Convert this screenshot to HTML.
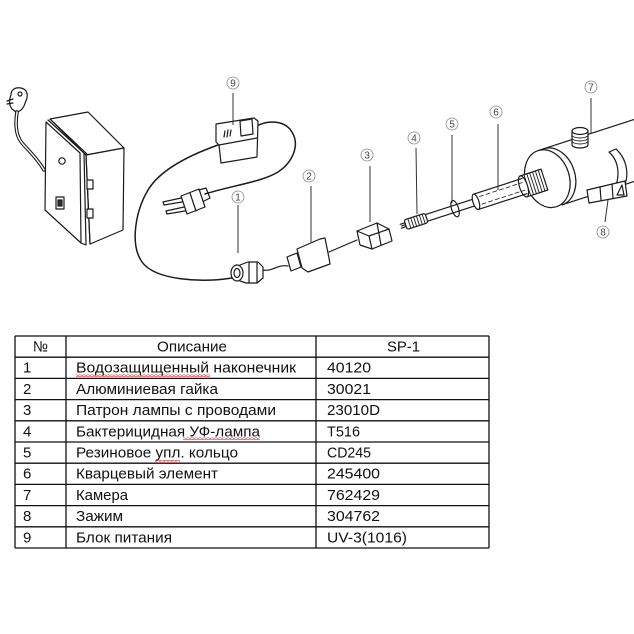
<!DOCTYPE html>
<html><head><meta charset="utf-8"><style>
html,body{margin:0;padding:0;background:#fff;}
svg{display:block;}
.t{font-family:"Liberation Sans","DejaVu Sans",sans-serif;font-size:15px;fill:#111;}
.lb{font-family:"Liberation Sans","DejaVu Sans",sans-serif;font-size:10px;fill:#444;text-anchor:middle;}
</style></head><body>
<svg width="634" height="634" viewBox="0 0 634 634" xmlns="http://www.w3.org/2000/svg">
<defs>
<pattern id="wv" x="0" y="0" width="4" height="3" patternUnits="userSpaceOnUse"><path d="M0,2.5 L2,0.5 L4,2.5" fill="none" stroke="#d22" stroke-width="0.8"/></pattern>
</defs>
<rect width="634" height="634" fill="#fff"/>

<!-- DRAWING -->
<g fill="none" stroke="#1b1b1b" stroke-width="1.2" stroke-linejoin="round" stroke-linecap="round">
  <!-- left plug -->
  <path d="M11,95 C11,89 16,87 21,88 C26,89 28,93 27,98 L24,106 C22,110 19,112 16,112 L12,109 C9,105 9,100 11,95 Z" fill="#fff"/>
  <path d="M7,101 L13,99 M7,104 L13,103"/>
  <circle cx="20" cy="94" r="2"/>
  <!-- cable -->
  <path d="M17,112 C15,125 16,136 22,143 C28,150 37,158 44,170" stroke-width="3.6"/>
  <path d="M17,112 C15,125 16,136 22,143 C28,150 37,158 44,170" stroke="#fff" stroke-width="1.4"/>
  <!-- control box -->
  <path d="M50,119 L88,112 L124,148 L86,155 Z" fill="#fff"/>
  <path d="M86,155 L124,148 L123,230 L90,244 Z" fill="#fff"/>
  <path d="M48,120 L84,153 L86,245 L81,243"/>
  <path d="M84,153 L86,155 M86,155 L90,244"/>
  <path d="M46,122 L80,153 L81,243 L45,210 Z" fill="#fff"/>
  <path d="M50,119 L88,155"/>
  <rect x="87" y="180" width="6" height="9" fill="#fff"/>
  <rect x="87" y="209" width="6" height="9" fill="#fff"/>
  <circle cx="62" cy="161" r="3.2"/>
  <rect x="56" y="197" width="8" height="12"/>
  <rect x="58" y="200" width="4" height="6" fill="#333"/>

  <!-- power supply 9 cables -->
  <path d="M257,126 C268,120 285,120 292,132 C300,145 293,162 278,172 C262,182 230,186 205,194" stroke-width="1.5"/>
  <path d="M218,145 C190,155 160,170 148,190 C135,212 130,245 142,262 C155,280 200,283 232,278" stroke-width="1.5"/>
  <!-- PSU box -->
  <path d="M216,124 L254,118 L258,121 L257,157 L221,163 L219,145 L216,142 Z" fill="#fff"/>
  <path d="M219,145 L257,138"/>
  <path d="M240,121 L252,119 L253,134 L241,136 Z"/>
  <path d="M225,131 L224,137 M228,130 L227,137 M231,130 L230,136"/>

  <!-- pin plug -->
  <path d="M181,198 L163,202 L164,205 L182,202"/>
  <path d="M184,207 L166,211 L167,214 L185,211"/>
  <path d="M181,196 L199,189 L205,207 L187,214 Z" fill="#fff"/>
  <path d="M190,193 L196,211"/>
  <path d="M199,190 L206,188 L210,198 L204,201"/>

  <!-- nut 1 -->
  <path d="M240,265 L248,262 L258,262 L263,267 L263,278 L257,283 L246,283 L240,281" fill="#fff"/>
  <path d="M249,262 L249,283 M257,262 L257,283"/>
  <ellipse cx="237" cy="273" rx="6" ry="8" fill="#fff"/>
  <ellipse cx="237" cy="273" rx="3" ry="4.5"/>
  <path d="M263,270 C272,272 278,264 288,266"/>

  <!-- part 2 -->
  <path d="M287,257 L297,253 L301,267 L291,271 Z" fill="#fff"/>
  <path d="M297,249 L320,239 L325,238 L329,258 L330,264 L308,272 L302,268 Z" fill="#fff"/>
  <path d="M329,252 L357,240"/>
  <!-- part 3 -->
  <path d="M357,231 L377,223 L389,229 L392,241 L372,249 L360,245 Z" fill="#fff"/>
  <path d="M377,223 L381,245 M357,231 L369,236 L372,249 M369,236 L389,229"/>

  <!-- lamp assembly -->
  <g transform="translate(417,221) rotate(-18)">
    <path d="M-17,-2 L-12,-2 M-17,2 L-12,2 M-16,0 L-12,0"/>
    <rect x="-12" y="-5" width="22" height="10" rx="2" fill="#fff"/>
    <path d="M-8,-5 L-8,5 M-5,-5 L-5,5 M-2,-5 L-2,5 M1,-5 L1,5 M4,-5 L4,5 M7,-5 L7,5" stroke-width="0.9"/>
    <path d="M10,-3.5 L62,-3.5 M10,3.5 L62,3.5"/>
    <ellipse cx="40" cy="0" rx="3.5" ry="8.5"/>
    <!-- chamber disc -->
    <path d="M143,-29.5 A22,29.5 0 0 1 143,29.5"/>
    <path d="M137,-29.5 L262,-29.5 M143,29.5 L262,29.5"/>
    <ellipse cx="137" cy="0" rx="22" ry="29.5" fill="#fff"/>
    <!-- threaded nipple -->
    <rect x="112" y="-11" width="22" height="22" fill="#fff"/>
    <path d="M116,-11 L116,11 M119,-11 L119,11 M122,-11 L122,11 M125,-11 L125,11 M128,-11 L128,11 M131,-11 L131,11" stroke-width="0.9"/>
    <ellipse cx="112" cy="0" rx="4" ry="11" fill="#fff"/>
    <!-- quartz -->
    <path d="M62,-8 L113,-8 M62,8 L113,8"/>
    <ellipse cx="62" cy="0" rx="3" ry="8" fill="#fff"/>
    <path d="M67,-4 L112,-4 M67,4 L112,4" stroke-dasharray="4 3" stroke-width="0.8"/>
  </g>

  <!-- port 7 -->
  <path d="M572,131 L572,145 A8,3 0 0 0 588,145 L588,131" fill="#fff"/>
  <path d="M572,135 A8,3 0 0 0 588,135 M572,138 A8,3 0 0 0 588,138 M572,141 A8,3 0 0 0 588,141" stroke-width="0.9"/>
  <ellipse cx="580" cy="131" rx="8" ry="3.5" fill="#fff"/>

  <!-- clamp 8 -->
  <path d="M609,152 L616,149 C628,160 630,178 622,190 L614,190 C620,178 620,162 609,152 Z" fill="#fff"/>
  <path d="M587,190 L625,181 L627,196 L589,203 Z" fill="#fff"/>
  <path d="M600,187 L601,200 M612,184 L613,198 M617,195 L622,185 L624,195 Z"/>
</g>

<!-- leaders -->
<g stroke="#333" stroke-width="1" fill="none">
  <path d="M233,93 L233,125"/>
  <path d="M238,205 L238,253"/>
  <path d="M311,186 L311,242"/>
  <path d="M370,166 L370,222"/>
  <path d="M416,148 L417,214"/>
  <path d="M452,135 L452,203"/>
  <path d="M498,124 L498,190"/>
  <path d="M591,98 L591,133"/>
  <path d="M608,200 L605,222"/>
</g>
<g stroke="#888" stroke-width="0.8" fill="#fff">
  <circle cx="233" cy="83" r="6"/>
  <circle cx="238" cy="197" r="6"/>
  <circle cx="309" cy="176" r="6"/>
  <circle cx="367" cy="155" r="6"/>
  <circle cx="414" cy="138" r="6"/>
  <circle cx="452" cy="124" r="6"/>
  <circle cx="496" cy="112" r="6"/>
  <circle cx="591" cy="87" r="6"/>
  <circle cx="603" cy="232" r="6"/>
</g>
<g class="lb">
  <text x="233" y="86.5">9</text>
  <text x="238" y="200.5">1</text>
  <text x="309" y="179.5">2</text>
  <text x="367" y="158.5">3</text>
  <text x="414" y="141.5">4</text>
  <text x="452" y="127.5">5</text>
  <text x="496" y="115.5">6</text>
  <text x="591" y="90.5">7</text>
  <text x="603" y="235.5">8</text>
</g>

<!-- TABLE -->
<g stroke="#111" stroke-width="1.3">
  <path d="M15,336 H489 M15,357.2 H489 M15,378.4 H489 M15,399.6 H489 M15,420.8 H489 M15,442 H489 M15,463.2 H489 M15,484.4 H489 M15,505.6 H489 M15,526.8 H489 M15,548 H489"/>
  <path d="M15,336 V548 M66,336 V548 M316,336 V548 M489,336 V548"/>
</g>
<rect x="76" y="374" width="134" height="3" fill="url(#wv)"/>
<rect x="183" y="437" width="77" height="3" fill="url(#wv)"/>
<rect x="155" y="460" width="25" height="3" fill="url(#wv)"/>
<g class="t">
  <text x="33" y="351.5" textLength="15" lengthAdjust="spacingAndGlyphs">№</text>
  <text x="157" y="351.5" textLength="70" lengthAdjust="spacingAndGlyphs">Описание</text>
  <text x="387" y="351.5" textLength="33" lengthAdjust="spacingAndGlyphs">SP-1</text>

  <text x="23" y="372.7">1</text>
  <text x="23" y="393.9">2</text>
  <text x="23" y="415.1">3</text>
  <text x="23" y="436.3">4</text>
  <text x="23" y="457.5">5</text>
  <text x="23" y="478.7">6</text>
  <text x="23" y="499.9">7</text>
  <text x="23" y="521.1">8</text>
  <text x="23" y="542.3">9</text>

  <text x="76" y="372.7" textLength="220" lengthAdjust="spacingAndGlyphs">Водозащищенный наконечник</text>
  <text x="76" y="393.9" textLength="142" lengthAdjust="spacingAndGlyphs">Алюминиевая гайка</text>
  <text x="76" y="415.1" textLength="200" lengthAdjust="spacingAndGlyphs">Патрон лампы с проводами</text>
  <text x="76" y="436.3" textLength="184" lengthAdjust="spacingAndGlyphs">Бактерицидная УФ-лампа</text>
  <text x="76" y="457.5" textLength="162" lengthAdjust="spacingAndGlyphs">Резиновое упл. кольцо</text>
  <text x="76" y="478.7" textLength="142" lengthAdjust="spacingAndGlyphs">Кварцевый элемент</text>
  <text x="76" y="499.9" textLength="52" lengthAdjust="spacingAndGlyphs">Камера</text>
  <text x="76" y="521.1" textLength="47" lengthAdjust="spacingAndGlyphs">Зажим</text>
  <text x="76" y="542.3" textLength="96" lengthAdjust="spacingAndGlyphs">Блок питания</text>

  <text x="327" y="372.7" textLength="44" lengthAdjust="spacingAndGlyphs">40120</text>
  <text x="327" y="393.9" textLength="44" lengthAdjust="spacingAndGlyphs">30021</text>
  <text x="327" y="415.1" textLength="53" lengthAdjust="spacingAndGlyphs">23010D</text>
  <text x="327" y="436.3" textLength="33" lengthAdjust="spacingAndGlyphs">T516</text>
  <text x="327" y="457.5" textLength="44" lengthAdjust="spacingAndGlyphs">CD245</text>
  <text x="327" y="478.7" textLength="53" lengthAdjust="spacingAndGlyphs">245400</text>
  <text x="327" y="499.9" textLength="53" lengthAdjust="spacingAndGlyphs">762429</text>
  <text x="327" y="521.1" textLength="53" lengthAdjust="spacingAndGlyphs">304762</text>
  <text x="327" y="542.3" textLength="80" lengthAdjust="spacingAndGlyphs">UV-3(1016)</text>
</g>
</svg>
</body></html>
